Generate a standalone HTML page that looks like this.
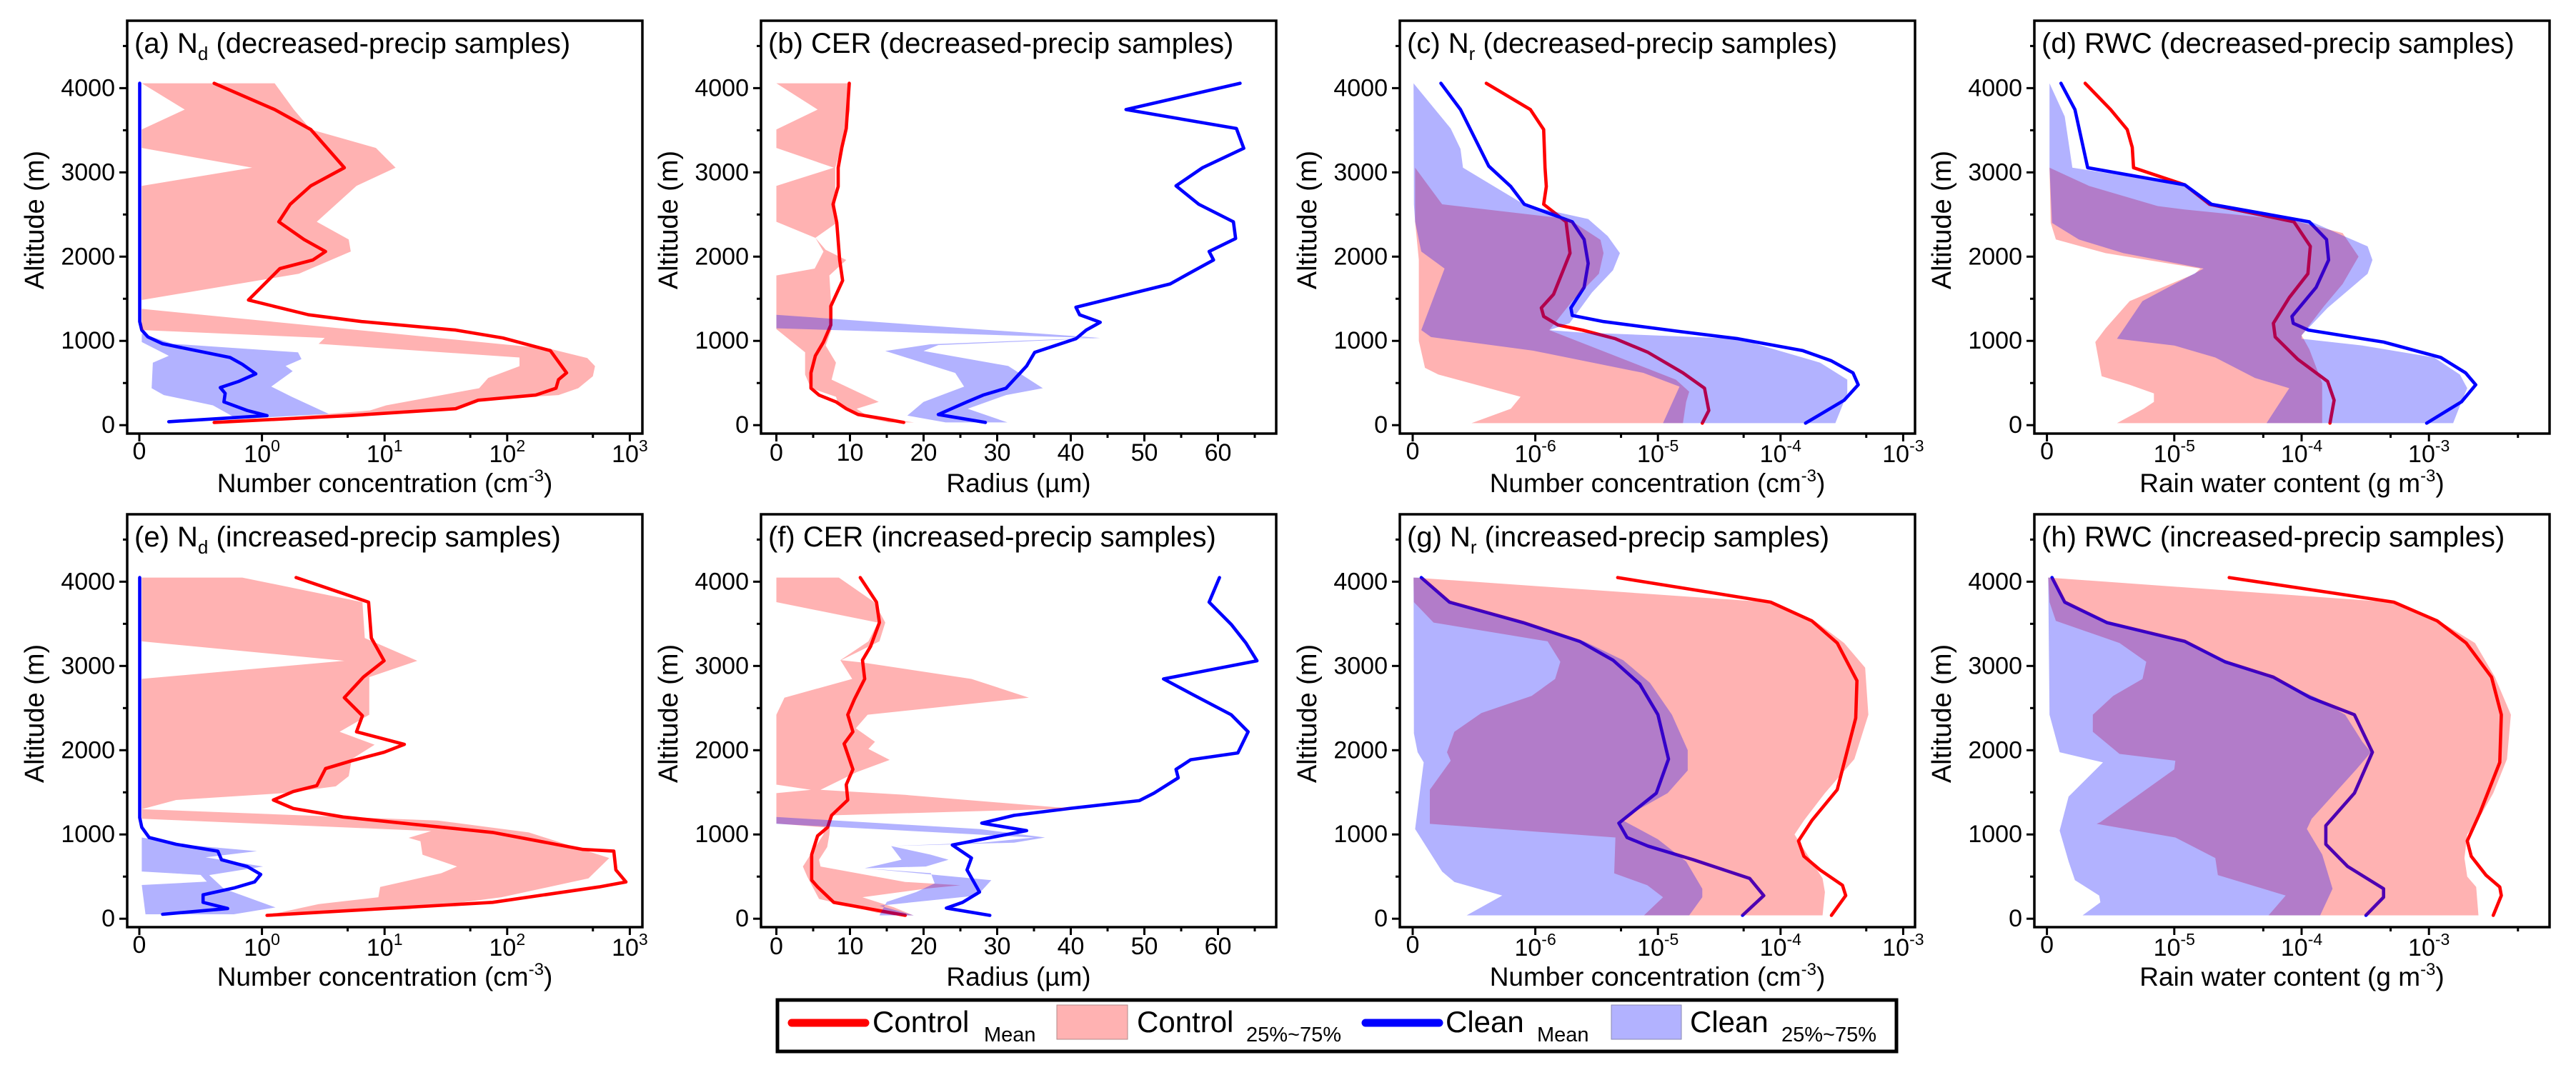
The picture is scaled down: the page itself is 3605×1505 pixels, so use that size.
<!DOCTYPE html>
<html><head><meta charset="utf-8">
<style>
html,body{margin:0;padding:0;background:#fff;}
svg{display:block;font-family:"Liberation Sans",Arial,sans-serif;}
</style></head>
<body>
<svg id="fig" xmlns="http://www.w3.org/2000/svg" width="3605" height="1505" viewBox="0 0 3605 1505">
<rect x="0" y="0" width="3605" height="1505" fill="#fff"/>
<g id="legend">
  <rect x="1088" y="1400" width="1566" height="72" fill="#fff" stroke="#000" stroke-width="5"/>
  <g>
    <line x1="1108" y1="1432" x2="1211" y2="1432" stroke="#ff0000" stroke-width="11" stroke-linecap="round"/>
    <text x="1221" y="1445" font-size="42">Control</text>
    <text x="1377" y="1458" font-size="29">Mean</text>
  </g>
  <g>
    <rect x="1479" y="1407" width="99" height="48" fill="#ffb2b2" stroke="#b08a8a" stroke-width="1"/>
    <text x="1591" y="1445" font-size="42">Control</text>
    <text x="1744" y="1458" font-size="29">25%~75%</text>
  </g>
  <g>
    <line x1="1911" y1="1432" x2="2014" y2="1432" stroke="#0000ff" stroke-width="11" stroke-linecap="round"/>
    <text x="2023" y="1445" font-size="42">Clean</text>
    <text x="2151" y="1458" font-size="29">Mean</text>
  </g>
  <g>
    <rect x="2255" y="1407" width="98" height="48" fill="#b2b2ff" stroke="#8a8ab0" stroke-width="1"/>
    <text x="2365" y="1445" font-size="42">Clean</text>
    <text x="2493" y="1458" font-size="29">25%~75%</text>
  </g>
</g>
</svg>
<script>
// ---------------- DATA (altitude in m, values in axis units) ----------------
// (a) Nd decreased
const aRedMeanAlt=[4057,3745,3509,3055,2840,2621,2414,2203,2061,1960,1858,1485,1310,1229,1128,1035,884,621,540,438,357,296,195,114,32];
const aRedMean=[0.61,1.27,2.5,4.7,2.5,1.7,1.37,2.2,3.3,2.6,1.4,0.89,2.4,6.5,38,92,225,305,262,250,171,58,38,5.2,0.61];
const aRedUpAlt=[4057,3745,3509,3290,3055,2840,2414,2203,2061,1797,1485,1380,905,797,700,580,438,357,296,195,114,32];
const aRedUp=[1.27,1.82,2.5,8.5,12.3,5.9,2.8,5.1,5.3,2.0,0.02,0.02,225,450,520,500,380,262,58,38,5.2,0.61];
const aRedLoAlt=[4057,3745,3509,3290,3055,2840,1380,1128,1035,965,803,700,560,438,235,175,73,32];
const aRedLo=[0.02,0.37,0.02,0.02,0.92,0.02,0.02,0.02,3.25,2.9,126,126,70,59,10.3,7.6,1.1,0.61];
const aBlueMeanAlt=[4057,1229,1128,1047,966,803,722,609,519,446,377,276,174,114,41];
const aBlueMean=[0.003,0.003,0.02,0.07,0.19,0.74,0.84,0.95,0.81,0.66,0.70,0.69,0.88,1.1,0.24];
const aBlueUpAlt=[1087,966,864,783,702,641,458,337,134,73];
const aBlueUp=[0.02,0.27,1.97,2.1,1.56,1.78,1.19,1.75,3.5,0.8];
const aBlueLoAlt=[1087,986,823,742,438,357,235,73];
const aBlueLo=[0.02,0.02,0.24,0.11,0.10,0.2,0.6,0.8];
// (b) CER decreased
const bRedMeanAlt=[4057,3521,3298,3055,2832,2621,2406,1960,1716,1412,1189,986,824,621,438,357,276,195,126,73,32];
const bRedMean=[9.9,9.5,8.9,8.4,8.4,7.7,8.2,8.6,9.0,7.4,7.4,6.4,5.3,4.7,4.7,5.8,8.1,9.5,11.1,14.8,17.3];
const bRedUpAlt=[4057,3745,3509,3055,2600,2414,2223,2081,1960,1777,1500,1290,1140,945,742,540,276,195,114,32];
const bRedUp=[9.9,10,9.5,8.0,8.0,8.4,5.3,6.7,9.5,7.2,7.4,7.5,7.5,6.7,8.1,7.5,13.9,10.9,12.3,18.7];
const bRedLoAlt=[4057,3745,3509,3290,3055,2840,2414,2223,2061,1858,1777,1140,864,600,438,337,256,114,32];
const bRedLo=[0,5.6,0,0,7.8,0,0,5.3,6.4,5.2,0,0,3.9,3.9,4.7,8.1,8.4,10.9,15.3];
const bBlueMeanAlt=[4057,3745,3521,3286,3055,2840,2621,2414,2215,2061,1960,1797,1676,1400,1310,1221,1128,1026,864,702,438,357,276,126,32];
const bBlueMean=[63,47.5,62.5,63.5,57.9,54.3,57.4,62.1,62.4,58.8,59.4,56,53.5,40.7,41.2,44,42.1,40.7,35.1,34,31.2,28.1,25.9,22,28.4];
const bBlueUpAlt=[1310,1035,990,950,880,702,438,357,195,32];
const bBlueUp=[0,44,32.8,22,20,31.5,36.2,31.2,26,31.4];
const bBlueLoAlt=[1310,1150,1035,960,880,620,458,276,114,32];
const bBlueLo=[0,0,43,20.9,14.8,24.3,25.5,20,17.8,23];
// (c) Nr decreased
const cRedMeanAlt=[4057,3745,3509,3055,2832,2621,2414,2041,1554,1392,1290,1189,1128,1026,864,621,438,174,24];
const cRedMean=[0.6e-6,0.96e-6,1.17e-6,1.2e-6,1.23e-6,1.17e-6,1.78e-6,1.92e-6,1.41e-6,1.12e-6,1.17e-6,1.53e-6,2.42e-6,4.5e-6,8.3e-6,1.6e-5,2.4e-5,2.6e-5,2.3e-5];
const cRedUpAlt=[3055,2621,2447,2200,2041,1797,1473,1128,540,397,276,24];
const cRedUp=[0.02e-6,0.24e-6,1.87e-6,3.4e-6,3.6e-6,3.3e-6,2.0e-6,1.3e-6,1.4e-5,1.8e-5,1.7e-5,1.6e-5];
const cRedLoAlt=[3055,2414,1960,1128,1000,680,600,337,195,24];
const cRedLo=[0.02e-6,0.02e-6,0.05e-6,0.05e-6,0.05e-6,0.1e-6,0.21e-6,0.88e-6,0.8e-6,0.48e-6];
const cBlueMeanAlt=[4057,3745,3075,2832,2621,2414,2203,1919,1635,1392,1302,1229,1116,1026,884,763,621,479,296,24];
const cBlueMean=[0.23e-6,0.39e-6,0.62e-6,0.8e-6,0.91e-6,2.0e-6,2.5e-6,2.7e-6,2.5e-6,1.95e-6,2.0e-6,3.6e-6,1.43e-5,4.5e-5,1.52e-4,2.6e-4,3.9e-4,4.3e-4,3.3e-4,1.6e-4];
const cBlueUpAlt=[4057,3521,3278,3055,2609,2447,2243,2041,1838,1574,1209,1128,1100,1026,742,540,377,24];
const cBlueUp=[0.007e-6,0.31e-6,0.39e-6,0.41e-6,0.92e-6,2.7e-6,3.9e-6,4.9e-6,4.3e-6,2.9e-6,1.9e-6,1.3e-6,2.3e-6,4.5e-5,2.1e-4,3.5e-4,3.5e-4,2.8e-4];
const cBlueLoAlt=[4057,2621,2414,2061,1858,1128,1045,884,621,458,24];
const cBlueLo=[0.007e-6,0.01e-6,0.02e-6,0.07e-6,0.26e-6,0.07e-6,0.15e-6,0.98e-6,7.6e-6,1.5e-5,1.1e-5];
// (d) RWC decreased
const dRedMeanAlt=[4057,3745,3509,3298,3055,2852,2621,2414,2122,1797,1513,1209,1047,783,519,296,24];
const dRedMean=[0.3e-5,0.5e-5,0.63e-5,0.67e-5,0.68e-5,1.21e-5,1.89e-5,8.7e-5,1.17e-4,1.12e-4,8e-5,6e-5,6.2e-5,9.3e-5,1.6e-4,1.8e-4,1.67e-4];
const dRedUpAlt=[3055,2840,2600,2560,2430,2280,2000,1675,1412,1066,900,500,24];
const dRedUp=[0.02e-5,0.33e-5,0.87e-5,1.2e-5,8.5e-5,2.1e-4,2.8e-4,2.1e-4,1.5e-4,1.0e-4,1.15e-4,1.45e-4,1.45e-4];
const dRedLoAlt=[3055,2400,2203,2041,1858,1797,1473,1148,986,580,479,377,276,195,24];
const dRedLo=[0.02e-5,0.03e-5,0.07e-5,0.46e-5,1.6e-5,1.45e-5,0.65e-5,0.46e-5,0.38e-5,0.43e-5,0.65e-5,0.84e-5,0.84e-5,0.76e-5,0.55e-5];
const dBlueMeanAlt=[4057,3745,3055,2852,2621,2414,2203,1960,1635,1290,1209,1128,986,803,621,479,276,24];
const dBlueMean=[0.11e-5,0.22e-5,0.32e-5,1.21e-5,1.96e-5,1.15e-4,1.57e-4,1.63e-4,1.3e-4,8.4e-5,8.6e-5,1.13e-4,4.4e-4,1.24e-3,1.94e-3,2.33e-3,1.8e-3,9.6e-4];
const dBlueUpAlt=[4057,3663,3055,2852,2621,2414,2250,2122,1960,1797,1392,1067,1026,945,803,600,438,276,24];
const dBlueUp=[0.02e-5,0.14e-5,0.2e-5,1.2e-5,2e-5,1.2e-4,2.1e-4,3.3e-4,3.6e-4,3.3e-4,1.6e-4,1.0e-4,1.0e-4,3e-4,1.1e-3,1.75e-3,2.0e-3,1.8e-3,1.55e-3];
const dBlueLoAlt=[4057,3055,2400,2203,2041,1858,1473,1026,945,803,560,438,24];
const dBlueLo=[0.02e-5,0.02e-5,0.04e-5,0.25e-5,0.6e-5,1.7e-5,0.75e-5,0.55e-5,1.0e-5,2.1e-5,4.3e-5,8e-5,5.3e-5];
// (e) Nd increased
const eRedMeanAlt=[4049,3757,3332,3061,2867,2624,2409,2219,2069,1976,1875,1782,1579,1510,1409,1308,1207,1024,822,802,579,437,377,194,40];
const eRedMean=[1.9,7.4,7.8,9.9,6.7,4.7,6.6,5.9,14.5,9.9,5.4,3.3,2.8,1.8,1.24,1.8,4.6,76,415,740,770,930,560,76,1.1];
const eRedUpAlt=[4049,3757,3332,3061,2867,2421,2219,2065,1895,1692,1571,1490,1409,1300,1166,1024,721,478,255,113,40];
const eRedUp=[0.84,6.6,6.9,18.5,7.5,7.5,4.3,8.3,5.4,5.1,4.0,1.5,0.3,0.02,27,150,680,460,90,16,1.1];
const eRedLoAlt=[4049,3292,3061,2847,1300,1187,1040,960,920,760,620,540,377,255,174,40];
const eRedLo=[0.02,0.02,4.7,0.02,0.02,0.02,24,15.7,19.6,20.4,39,29,9.2,8.9,2.9,1.1];
const eBlueMeanAlt=[4049,1200,1085,964,883,802,700,620,526,437,364,283,194,121,53];
const eBlueMean=[0.003,0.003,0.02,0.08,0.3,0.64,0.67,0.88,0.99,0.94,0.77,0.52,0.52,0.72,0.19];
const eBlueUpAlt=[964,875,802,729,620,518,356,134,53];
const eBlueUp=[0.02,0.39,0.96,0.54,1.02,0.57,0.69,1.29,0.77];
const eBlueLoAlt=[964,560,520,440,400,53];
const eBlueLo=[0.02,0.02,0.5,0.55,0.02,0.05];
// (f) CER increased
const fRedMeanAlt=[4049,3757,3515,3231,3069,2846,2604,2421,2219,2077,1773,1591,1409,1227,1085,984,761,458,377,194,40];
const fRedMean=[11.4,13.6,14.0,12.8,11.7,12.0,10.6,9.7,10.4,9.2,10.4,9.5,9.7,7.5,6.96,5.6,4.8,4.8,5.6,7.8,17.5];
const fRedUpAlt=[4049,3757,3515,3292,3069,3040,2846,2624,2421,2260,2100,2015,1885,1740,1530,1470,1308,1227,1130,1000,850,700,620,437,397,360,255,134,40];
const fRedUp=[8.5,13.3,14.8,14.0,8.8,11.8,26.5,34.3,12.4,10.8,13.4,12.5,15.4,10.9,6,17.5,40.1,7.5,7.3,7.2,6.9,5.8,6.0,17.5,25,20.6,11.7,16,18.6];
const fRedLoAlt=[4049,3757,3515,3292,3069,2846,2624,2421,1591,1530,1490,1130,1085,1000,620,498,235,73,40];
const fRedLo=[0,0,13.8,12.5,8.7,10.3,1.1,0,0,4.7,0,0,6.5,6.4,3.6,4.2,5.8,13.6,16];
const fBlueMeanAlt=[4049,3757,3494,3272,3061,2846,2664,2421,2219,1968,1887,1773,1672,1490,1401,1308,1227,1134,1045,875,721,579,316,194,126,40];
const fBlueMean=[60.2,58.8,61.8,63.8,65.3,52.6,56.5,61.8,64.1,62.7,56.3,54.3,54.6,51.3,49.3,39.8,32.3,27.9,34,23.9,26.5,25.9,27.6,25.3,23.1,29];
const fBlueUpAlt=[1207,1065,964,903,862,761,700,620,599,458,275,154,40];
const fBlueUp=[0,27.6,36.5,32.3,15.6,20.9,23.4,20.3,12,29.2,27.3,14,18.7];
const fBlueLoAlt=[1207,1126,964,903,862,700,599,540,420,316,200,40];
const fBlueLo=[0,0,35,28,15.6,17,12,21,21.5,19,15,14];
// (g) Nr increased
const gRedMeanAlt=[4049,3757,3535,3272,2826,2381,1531,1166,923,741,579,397,275,40];
const gRedMean=[4.7e-6,8.3e-5,1.8e-4,2.9e-4,4.2e-4,4.1e-4,2.9e-4,1.8e-4,1.4e-4,1.55e-4,2.1e-4,3.2e-4,3.4e-4,2.6e-4];
const gRedUpAlt=[4049,3757,3535,3272,2980,2421,1895,1490,1166,1000,478,316,40];
const gRedUp=[0.01e-6,7.8e-5,1.9e-4,3.3e-4,4.9e-4,5.2e-4,4e-4,2.3e-4,1.55e-4,1.3e-4,2.2e-4,2.3e-4,2.2e-4];
const gRedLoAlt=[4049,3757,3515,3292,3049,2846,2644,2441,2219,1976,1875,1531,1126,964,539,397,255,40];
const gRedLo=[0.007e-6,0.01e-6,0.17e-6,1.26e-6,1.6e-6,1.45e-6,0.97e-6,0.56e-6,0.34e-6,0.28e-6,0.31e-6,0.14e-6,0.14e-6,4.5e-6,4.4e-6,8.2e-6,1.1e-5,7.7e-6];
const gBlueMeanAlt=[4049,3757,3515,3292,3069,2786,2421,1895,1490,1134,964,862,700,478,275,40];
const gBlueMean=[0.07e-6,0.3e-6,0.9e-6,2.3e-6,4.3e-6,7.1e-6,1.0e-5,1.22e-5,9.7e-6,4.8e-6,5.6e-6,8.3e-6,1.94e-5,5.6e-5,7.3e-5,4.9e-5];
const gBlueUpAlt=[4049,3757,3515,3292,3069,2800,2421,2000,1760,1490,1300,1166,943,680,356,255,40];
const gBlueUp=[0.07e-6,0.3e-6,0.9e-6,2.5e-6,5.2e-6,8.6e-6,1.3e-5,1.75e-5,1.75e-5,1.2e-5,7e-6,5.2e-6,1.0e-5,1.7e-5,2.3e-5,2.3e-5,1.8e-5];
const gBlueLoAlt=[4049,2200,1976,1855,1065,559,437,275,40];
const gBlueLo=[0.007e-6,0.01e-6,0.04e-6,0.09e-6,0.02e-6,0.24e-6,0.34e-6,0.73e-6,0.44e-6];
// (h) RWC increased
const hRedMeanAlt=[4049,3757,3535,3272,2867,2421,1855,1247,923,741,518,377,275,40];
const hRedMean=[2.7e-5,5.3e-4,1.16e-3,1.96e-3,3.1e-3,3.7e-3,3.6e-3,2.5e-3,2.0e-3,2.15e-3,2.8e-3,3.6e-3,3.7e-3,3.2e-3];
const hRedUpAlt=[4049,3757,3535,3272,2867,2421,1895,1490,1247,1000,720,500,377,40];
const hRedUp=[0.01e-5,5e-4,1.2e-3,2.3e-3,3.3e-3,4.4e-3,4.1e-3,3.2e-3,2.6e-3,2.0e-3,1.9e-3,2.0e-3,2.35e-3,2.45e-3];
const hRedLoAlt=[4049,3757,3535,3272,3049,2846,2644,2421,2219,1956,1875,1773,1146,1126,964,721,518,275,40];
const hRedLo=[0.01e-5,0.02e-5,0.07e-5,0.57e-5,0.78e-5,0.75e-5,0.52e-5,0.36e-5,0.36e-5,0.57e-5,1.02e-5,1.0e-5,0.42e-5,0.39e-5,1.02e-5,2.1e-5,2.2e-5,7.5e-5,5.5e-5];
const hBlueMeanAlt=[4049,3757,3515,3292,3049,2867,2624,2421,1976,1490,1105,883,620,356,255,40];
const hBlueMean=[0.04e-5,0.14e-5,0.47e-5,1.21e-5,2.5e-5,6e-5,1.17e-4,2.6e-4,3.6e-4,2.6e-4,1.55e-4,1.55e-4,2.3e-4,4.4e-4,4.4e-4,3.2e-4];
const hBlueUpAlt=[4049,3757,3535,3272,3049,2846,2624,2421,2100,1976,1775,1186,1065,761,356,40];
const hBlueUp=[0.04e-5,0.14e-5,0.47e-5,1.3e-5,2.7e-5,6.2e-5,1.3e-4,2.2e-4,3e-4,3.5e-4,2.7e-4,1.2e-4,1.1e-4,1.45e-4,1.75e-4,1.4e-4];
const hBlueLoAlt=[4049,2421,1976,1855,1450,1045,680,458,275,194,40];
const hBlueLo=[0.01e-5,0.02e-5,0.1e-5,0.44e-5,0.17e-5,0.1e-5,0.17e-5,0.22e-5,0.41e-5,0.42e-5,0.28e-5];

const yTicks=[0,1000,2000,3000,4000];
const yMinor=[500,1500,2500,3500,4500];

// ---------------- LAYOUT / AXES ----------------
const NS="http://www.w3.org/2000/svg";
const svg=document.getElementById('fig');
const colLeft=[178,1065,1959,2847], frameW=721;
const rowTop=[29,720], frameH=578;
const axisTypes={
  nd:{kind:'log',base:1,dec:171.6,off:17,labels:[[0,'0'],[1,'0'],[10,'1'],[100,'2'],[1000,'3']],minor:[5,50,500],title:'Number concentration (cm',sup:'-3',tail:')'},
  cer:{kind:'lin',scale:10.3,off:21.5,major:[0,10,20,30,40,50,60],minor:[5,15,25,35,45,55,65],title:'Radius (\u00b5m)'},
  nr:{kind:'log',base:1e-6,dec:171.6,off:18,labels:[[0,'0'],[1e-6,'-6'],[1e-5,'-5'],[1e-4,'-4'],[1e-3,'-3']],minor:[5e-6,5e-5,5e-4],title:'Number concentration (cm',sup:'-3',tail:')'},
  rwc:{kind:'log',base:1e-5,dec:178.2,off:17.6,labels:[[0,'0'],[1e-5,'-5'],[1e-4,'-4'],[1e-3,'-3']],minor:[5e-5,5e-4,5e-3],title:'Rain water content (g m',sup:'-3',tail:')'}
};
function xScale(t,left,v){
  const a=axisTypes[t];
  if(a.kind==='lin') return left+a.off+v*a.scale;
  if(v<=a.base) return left+a.off+(v/a.base)*a.dec;
  return left+a.off+a.dec*(1+Math.log10(v/a.base));
}
function yScale(row,alt){return rowTop[row]+(4800-alt)*frameH/4900;}

const panels=[
 {id:'a',row:0,col:0,t:'nd',sym:'N',sub:'d',txt:' (decreased-precip samples)',d:[aRedMeanAlt,aRedMean,aRedUpAlt,aRedUp,aRedLoAlt,aRedLo,aBlueMeanAlt,aBlueMean,aBlueUpAlt,aBlueUp,aBlueLoAlt,aBlueLo]},
 {id:'b',row:0,col:1,t:'cer',sym:'CER',sub:'',txt:' (decreased-precip samples)',d:[bRedMeanAlt,bRedMean,bRedUpAlt,bRedUp,bRedLoAlt,bRedLo,bBlueMeanAlt,bBlueMean,bBlueUpAlt,bBlueUp,bBlueLoAlt,bBlueLo]},
 {id:'c',row:0,col:2,t:'nr',sym:'N',sub:'r',txt:' (decreased-precip samples)',d:[cRedMeanAlt,cRedMean,cRedUpAlt,cRedUp,cRedLoAlt,cRedLo,cBlueMeanAlt,cBlueMean,cBlueUpAlt,cBlueUp,cBlueLoAlt,cBlueLo]},
 {id:'d',row:0,col:3,t:'rwc',sym:'RWC',sub:'',txt:' (decreased-precip samples)',d:[dRedMeanAlt,dRedMean,dRedUpAlt,dRedUp,dRedLoAlt,dRedLo,dBlueMeanAlt,dBlueMean,dBlueUpAlt,dBlueUp,dBlueLoAlt,dBlueLo]},
 {id:'e',row:1,col:0,t:'nd',sym:'N',sub:'d',txt:' (increased-precip samples)',d:[eRedMeanAlt,eRedMean,eRedUpAlt,eRedUp,eRedLoAlt,eRedLo,eBlueMeanAlt,eBlueMean,eBlueUpAlt,eBlueUp,eBlueLoAlt,eBlueLo]},
 {id:'f',row:1,col:1,t:'cer',sym:'CER',sub:'',txt:' (increased-precip samples)',d:[fRedMeanAlt,fRedMean,fRedUpAlt,fRedUp,fRedLoAlt,fRedLo,fBlueMeanAlt,fBlueMean,fBlueUpAlt,fBlueUp,fBlueLoAlt,fBlueLo]},
 {id:'g',row:1,col:2,t:'nr',sym:'N',sub:'r',txt:' (increased-precip samples)',d:[gRedMeanAlt,gRedMean,gRedUpAlt,gRedUp,gRedLoAlt,gRedLo,gBlueMeanAlt,gBlueMean,gBlueUpAlt,gBlueUp,gBlueLoAlt,gBlueLo]},
 {id:'h',row:1,col:3,t:'rwc',sym:'RWC',sub:'',txt:' (increased-precip samples)',d:[hRedMeanAlt,hRedMean,hRedUpAlt,hRedUp,hRedLoAlt,hRedLo,hBlueMeanAlt,hBlueMean,hBlueUpAlt,hBlueUp,hBlueLoAlt,hBlueLo]}
];

function el(tag,attrs,parent){
  const e=document.createElementNS(NS,tag);
  for(const k in attrs) e.setAttribute(k,attrs[k]);
  (parent||svg).appendChild(e);
  return e;
}
function linePts(p,alts,vals){
  const L=colLeft[p.col];
  return alts.map((a,i)=>xScale(p.t,L,vals[i]).toFixed(1)+','+yScale(p.row,a).toFixed(1)).join(' ');
}
function bandPts(p,ua,uv,la,lv){
  const L=colLeft[p.col];
  const pts=[];
  for(let i=0;i<ua.length;i++) pts.push(xScale(p.t,L,uv[i]).toFixed(1)+','+yScale(p.row,ua[i]).toFixed(1));
  for(let i=la.length-1;i>=0;i--) pts.push(xScale(p.t,L,lv[i]).toFixed(1)+','+yScale(p.row,la[i]).toFixed(1));
  return pts.join(' ');
}

const legendNode=document.getElementById('legend');
panels.forEach(p=>{
  const L=colLeft[p.col], T=rowTop[p.row], R=L+frameW, B=T+frameH;
  const g=el('g',{});
  
  
  svg.insertBefore(g,legendNode);
  const cp=el('clipPath',{id:'clip'+p.id},g);
  el('rect',{x:L,y:T,width:frameW,height:frameH},cp);
  const plot=el('g',{'clip-path':'url(#clip'+p.id+')'},g);
  const d=p.d;
  const rl=el('polyline',{points:linePts(p,d[0],d[1]),fill:'none',stroke:'#ff0000','stroke-width':4.6,'stroke-linejoin':'round','stroke-linecap':'round'},plot);
  
  
  const bl=el('polyline',{points:linePts(p,d[6],d[7]),fill:'none',stroke:'#0000ff','stroke-width':4.6,'stroke-linejoin':'round','stroke-linecap':'round'},plot);
  
  
  const rb=el('polygon',{points:bandPts(p,d[2],d[3],d[4],d[5]),fill:'#ff0000','fill-opacity':0.3,stroke:'none'},plot);
  
  
  const bb=el('polygon',{points:bandPts(p,d[8],d[9],d[10],d[11]),fill:'#0000ff','fill-opacity':0.3,stroke:'none'},plot);
  
  
  const fr=el('rect',{x:L,y:T,width:frameW,height:frameH,fill:'none',stroke:'#000','stroke-width':3.5},g);
  
  
  const yax=el('g',{},g);
  
  
  yTicks.forEach(v=>{
    const y=yScale(p.row,v);
    el('line',{x1:L-11,y1:y,x2:L,y2:y,stroke:'#000','stroke-width':3},yax);
    const t=el('text',{x:L-17,y:y+11,'font-size':34,'text-anchor':'end'},yax);
    t.textContent=String(v);
  });
  yMinor.forEach(v=>{
    const y=yScale(p.row,v);
    el('line',{x1:L-6,y1:y,x2:L,y2:y,stroke:'#000','stroke-width':3},yax);
  });
  const yt=el('text',{x:0,y:0,'font-size':38,'text-anchor':'middle',transform:'translate('+(L-117)+','+((T+B)/2-10)+') rotate(-90)'},g);
  yt.textContent='Altitude (m)';
  
  
  const a=axisTypes[p.t];
  const xax=el('g',{},g);
  
  
  const ly=B+38;
  if(a.kind==='lin'){
    a.major.forEach(v=>{
      const x=xScale(p.t,L,v);
      el('line',{x1:x,y1:B,x2:x,y2:B+11,stroke:'#000','stroke-width':3},xax);
      const t=el('text',{x:x,y:ly,'font-size':34,'text-anchor':'middle'},xax);
      t.textContent=String(v);
    });
  } else {
    a.labels.forEach(([v,lab])=>{
      const x=xScale(p.t,L,v);
      el('line',{x1:x,y1:B,x2:x,y2:B+11,stroke:'#000','stroke-width':3},xax);
      const t=el('text',{x:x,y:ly+(v===0?-2:2),'font-size':34,'text-anchor':'middle'},xax);
      if(v===0){t.textContent='0';}
      else{
        t.appendChild(document.createTextNode('10'));
        const s=el('tspan',{dy:-15,'font-size':23},t);
        s.textContent=lab;
      }
    });
  }
  a.minor.forEach(v=>{
    const x=xScale(p.t,L,v);
    if(x<R) el('line',{x1:x,y1:B,x2:x,y2:B+6,stroke:'#000','stroke-width':3},xax);
  });
  const xt=el('text',{x:(L+R)/2,y:B+82,'font-size':37,'text-anchor':'middle'},g);
  
  
  xt.appendChild(document.createTextNode(a.title));
  if(a.sup){
    const s1=el('tspan',{dy:-15,'font-size':24},xt); s1.textContent=a.sup;
    const s2=el('tspan',{dy:15},xt); s2.textContent=a.tail;
  }
  const pt=el('text',{x:L+10,y:T+45,'font-size':40},g);
  
  
  pt.appendChild(document.createTextNode('('+p.id+') '+p.sym));
  if(p.sub){
    const s=el('tspan',{dy:10,'font-size':26},pt); s.textContent=p.sub;
    const r=el('tspan',{dy:-10},pt); r.textContent=p.txt;
  } else {
    pt.appendChild(document.createTextNode(p.txt));
  }
});
</script>
</body></html>
